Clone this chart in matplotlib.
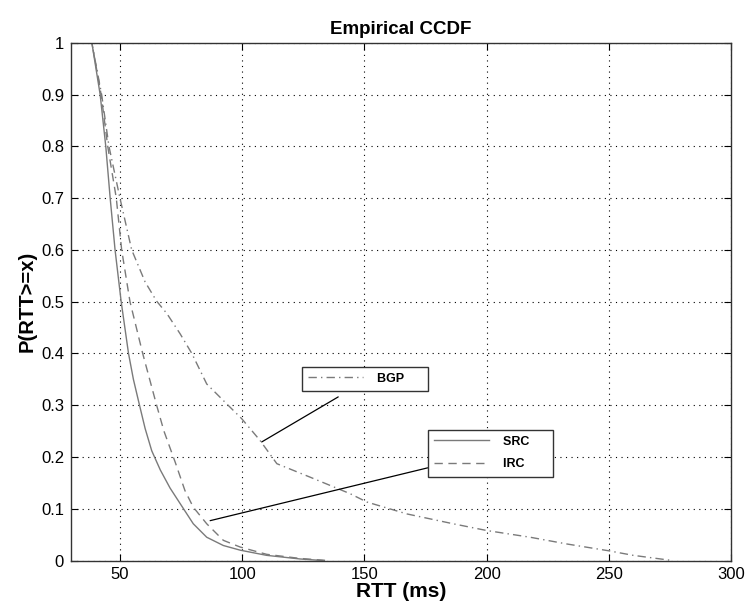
import matplotlib
matplotlib.use('Agg')
import matplotlib.pyplot as plt

plt.rcParams['font.family'] = ['Liberation Sans', 'DejaVu Sans']

# curve points (RTT in ms, P(RTT>=x))
src_x = [30, 38.5, 41.9, 44.2, 46, 48, 50.5, 53.5, 55.5, 58, 60.3, 63, 66.5, 70.5, 76, 80, 85.5, 92.3, 99.2, 110, 123.7, 133]
src_y = [1, 1, 0.9, 0.8, 0.7, 0.6, 0.5, 0.4, 0.35, 0.3, 0.255, 0.212, 0.175, 0.14, 0.1, 0.071, 0.045, 0.029, 0.02, 0.01, 0.003, 0]

irc_x = [30, 38.5, 42.3, 45, 48.5, 50.7, 54.1, 59.3, 65, 68, 72.6, 76.6, 80, 85.5, 92.3, 99.2, 110, 123.7, 135]
irc_y = [1, 1, 0.9, 0.8, 0.7, 0.6, 0.5, 0.4, 0.3, 0.25, 0.19, 0.135, 0.103, 0.071, 0.039, 0.026, 0.012, 0.004, 0]

bgp_x = [30, 38.5, 42.5, 45.5, 50, 54.8, 60.3, 65, 69.2, 74.6, 79.4, 85.5, 92.3, 99.8, 107.3, 114.2, 127.8, 144.2, 151,
         167.4, 186.3, 200, 217.8, 232.8, 249.7, 260, 276]
bgp_y = [1, 1, 0.9, 0.8, 0.7, 0.6, 0.538, 0.501, 0.477, 0.438, 0.4, 0.341, 0.309, 0.274, 0.232, 0.187, 0.161, 0.129, 0.113,
         0.09, 0.071, 0.058, 0.045, 0.032, 0.019, 0.01, 0]

xticks = [50, 100, 150, 200, 250, 300]
yticks = [0, 0.1, 0.2, 0.3, 0.4, 0.5, 0.6, 0.7, 0.8, 0.9, 1]
ytick_labels = ['0', '0.1', '0.2', '0.3', '0.4', '0.5', '0.6', '0.7', '0.8', '0.9', '1']

fig = plt.figure(figsize=(7.48, 6.13), dpi=100)
ax = fig.add_axes([0.095, 0.0856, 0.8823, 0.8447])

gray = '#7a7a7a'
l_src, = ax.plot(src_x, src_y, color=gray, lw=1.0, ls='-')
l_irc, = ax.plot(irc_x, irc_y, color=gray, lw=1.0, ls=(0, (6, 4)))
l_bgp, = ax.plot(bgp_x, bgp_y, color=gray, lw=1.0, ls=(0, (6, 3, 1, 3)))

ax.set_xlim(30, 300)
ax.set_ylim(0, 1)
ax.set_xticks(xticks)
ax.set_yticks(yticks)
ax.set_yticklabels(ytick_labels)
ax.tick_params(direction='in', top=True, right=True, length=5, labelsize=12, colors='black', pad=5)
ax.grid(True, ls=(0, (1, 4)), color='black', lw=0.8)
for s in ax.spines.values():
    s.set_color('#333333')
    s.set_linewidth(1.0)

ax.set_title('Empirical CCDF', fontweight='bold', fontsize=13.5, pad=6)
ax.set_xlabel('RTT (ms)', fontweight='bold', fontsize=15, labelpad=0)
ax.set_ylabel('P(RTT>=x)', fontweight='bold', fontsize=14.5, labelpad=3)

leg_kw = dict(loc='upper left', fancybox=False, framealpha=1, edgecolor='#333333',
              handlelength=4.4, handletextpad=1.1, borderpad=0.5, borderaxespad=0,
              prop={'weight': 'bold', 'size': 9}, labelspacing=0.85)
leg1 = ax.legend([l_bgp], ['BGP     '], bbox_to_anchor=(0.35, 0.3745), **leg_kw)
leg1.get_frame().set_linewidth(1.0)
ax.add_artist(leg1)
leg2 = ax.legend([l_src, l_irc], ['SRC     ', 'IRC     '], bbox_to_anchor=(0.541, 0.253), **leg_kw)
leg2.get_frame().set_linewidth(1.0)

# leader lines from the legend boxes to the curves
ax.annotate('', xy=(108, 0.229), xytext=(139.3, 0.316),
            arrowprops=dict(arrowstyle='-', color='black', lw=0.9, shrinkA=0, shrinkB=0))
ax.annotate('', xy=(86.9, 0.077), xytext=(175.9, 0.179),
            arrowprops=dict(arrowstyle='-', color='black', lw=0.9, shrinkA=0, shrinkB=0))

plt.savefig('out.png', dpi=100)
